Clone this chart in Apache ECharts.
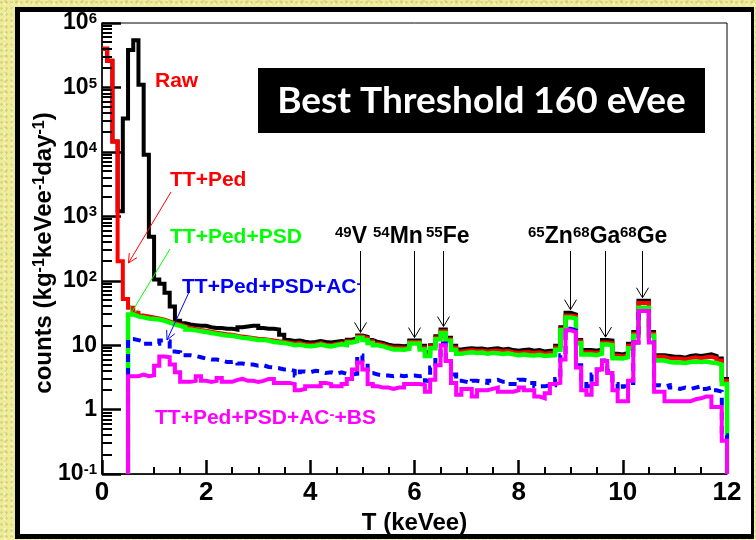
<!DOCTYPE html>
<html>
<head>
<meta charset="utf-8">
<script src="https://cdn.jsdelivr.net/npm/echarts/dist/echarts.min.js"></script>
<style>
  html, body { margin: 0; padding: 0; width: 756px; height: 540px; overflow: hidden; }
  body {
    position: relative;
    background-color: #efec98;
    background-image:
      radial-gradient(circle at 30% 40%, rgba(120,120,70,0.20) 0 1px, transparent 1.6px),
      radial-gradient(circle at 70% 80%, rgba(255,255,220,0.55) 0 1px, transparent 1.6px),
      radial-gradient(circle at 50% 10%, rgba(140,140,90,0.16) 0 1.2px, transparent 2px);
    background-size: 5px 6px, 7px 5px, 11px 9px;
  }
  #panel {
    position: absolute; left: 15px; top: 7px; width: 731px; height: 522px;
    background: #ffffff; border: 5px solid #000; border-right-width: 3px;
  }
  #chart { position: absolute; left: 0; top: 0; width: 756px; height: 540px; }
</style>
</head>
<body>
<div id="panel"></div>
<div id="chart"></div>
<script>
// Energy spectra, 0.1 keVee bins from 0 to 12 keVee (bin i covers [0.1*i, 0.1*(i+1)))
const BIN_WIDTH = 0.1;
const E_MAX = 12;
const Y_FLOOR = 0.1;

// Raw
const raw = [
  400000, 260000, 14500, 1200, 33000,
  380000, 540000, 110000, 9000, 480,
  105, 90, 65, 40, 24,
  22, 21, 20.5, 20, 20,
  19, 18.5, 18.5, 18, 18,
  17.5, 19, 19.5, 20, 20,
  18.5, 18, 18, 17.5, 14.5,
  12, 11.6, 11.8, 11.3, 11,
  11.2, 11.6, 11.2, 11, 11.3,
  11.6, 11.3, 12.2, 12.8, 14.2,
  13.5, 12, 11.2, 10.8, 10.2,
  9.8, 9.8, 9.6, 10, 11.8,
  11.8, 9.8, 7.8, 10, 13.8,
  17.5, 13, 9.8, 8.6, 8.8,
  9, 8.8, 8.9, 8.6, 8.8,
  9, 8.6, 8.8, 8.4, 8.2,
  8.4, 8.6, 8.2, 8.4, 8,
  8.2, 8.3, 9.8, 19, 32,
  30, 12, 8.4, 8.4, 8.2,
  8.6, 12, 11.8, 7.4, 7.2,
  7.6, 10.5, 16, 49, 49,
  16, 7, 7, 6.8, 6.6,
  6.6, 6.4, 6.8, 7, 6.8,
  7, 7.2, 6.8, 6.2, 3
];

// TT+Ped
const ttPed = [
  400000, 260000, 14500, 200, 52,
  38, 32, 29, 28, 27,
  26, 25, 23.5, 22, 21,
  19.8, 18.5, 17.8, 17.2, 16.8,
  16.2, 15.6, 15.2, 14.8, 14.5,
  14, 13.6, 13.3, 13, 12.6,
  12.5, 12.2, 11.8, 11.5, 11.3,
  11, 10.6, 10.8, 10.4, 10.2,
  10.4, 10.8, 10.3, 10.1, 10.5,
  10.8, 10.6, 11.5, 12.2, 13.6,
  12.8, 11.5, 10.6, 10.2, 9.6,
  9.2, 9.2, 9.1, 9.4, 11.2,
  11.2, 9.2, 7.3, 9.6, 13.2,
  16.5, 12.4, 9.2, 8, 8.2,
  8.4, 8.2, 8.3, 8, 8.2,
  8.3, 8, 8.2, 7.8, 7.6,
  7.8, 7.8, 7.6, 7.8, 7.4,
  7.6, 7.7, 9.2, 18, 29,
  28, 11.5, 7.8, 7.8, 7.6,
  8, 11, 10.8, 6.9, 6.7,
  7.1, 9.8, 15, 45, 45,
  15, 6.6, 6.6, 6.3, 6.2,
  6.2, 6, 6.3, 6.5, 6.3,
  6.5, 6.6, 6.3, 5.8, 2.8
];

// TT+Ped+PSD
const ttPedPsd = [
  null, null, null, null, null,
  30, 28, 27, 26, 25.5,
  25, 24, 22.5, 21, 20,
  19, 17.5, 17, 16.5, 16,
  15.5, 15, 14.5, 14.2, 14,
  13.5, 13, 12.8, 12.5, 12,
  12, 11.8, 11.2, 11, 10.8,
  10.5, 10, 10.2, 9.8, 9.6,
  9.8, 10.2, 9.8, 9.6, 10,
  10.3, 10, 11, 11.5, 13,
  12, 10.8, 10, 9.6, 9,
  8.6, 8.6, 8.5, 8.8, 10.6,
  10.6, 8.6, 6.8, 9, 12.4,
  15.5, 11.7, 8.5, 7.4, 7.6,
  7.8, 7.6, 7.7, 7.4, 7.6,
  7.5, 7.3, 7.5, 7.2, 7,
  7.2, 7, 6.9, 7.1, 6.8,
  6.9, 7, 8.5, 17, 27,
  26, 10.7, 7.2, 7.2, 7,
  7.4, 10.3, 10, 6.3, 6.2,
  6.5, 9, 14, 38, 38,
  14, 5.8, 5.8, 5.5, 5.4,
  5.4, 5.3, 5.5, 5.6, 5.5,
  5.6, 5.4, 5.3, 5, 2.5
];

// TT+Ped+PSD+AC-
const ttPedPsdAc = [
  null, null, null, null, null,
  12.5, 12, 11.5, 10.5, 10.5,
  10.5, 11.8, 11.5, 8, 7.8,
  7, 7, 6.8, 6.5, 6.2,
  6, 6, 5.8, 5.5, 5.5,
  5.6, 5.2, 5, 5, 4.8,
  4.9, 4.6, 4.5, 4.4, 4.2,
  4.2, 4, 3.4, 3.9, 3.8,
  4, 3.9, 3.7, 3.8, 3.6,
  3.8, 3.6, 3.5, 3.6, 6.9,
  5.5, 3.7, 3.5, 3.4, 3.4,
  3.3, 3.4, 3.3, 3.4, 3.4,
  3.3, 3.4, 2.8, 4.5, 6.4,
  10.6, 6, 3.5, 2.8, 2.7,
  2.6, 2.8, 2.7, 2.6, 2.8,
  2.9, 2.7, 2.7, 2.5, 2.5,
  2.9, 2.8, 2.6, 2.3, 2.3,
  2.4, 2.4, 3, 7, 18,
  17, 4.9, 2.5, 2.3, 3.5,
  4.2, 5.8, 4, 2.5, 2,
  2.3, 2.6, 11, 34, 34,
  11, 2.4, 2.3, 2.4, 2.2,
  2.1, 2.2, 2.1, 2.2, 2.3,
  2.1, 2.2, 2, 1.9, 0.4
];

// TT+Ped+PSD+AC-+BS
const ttPedPsdAcBs = [
  null, null, null, null, null,
  3.3, 3.3, 3.5, 3.3, 3.4,
  4.8, 6.7, 6.5, 5, 3.8,
  2.7, 2.7, 2.8, 3.3, 2.8,
  2.7, 2.8, 3.1, 2.7, 2.7,
  2.9, 3, 2.8, 2.8, 2.7,
  2.8, 3, 3, 2.6, 2.6,
  2.6, 2.5, 2, 2.1, 2.3,
  2.3, 2.3, 2.6, 2.5, 2.3,
  2.3, 2.5, 3, 4.2, 5.4,
  4.2, 2.5, 2.3, 2.2, 2.2,
  2.1, 2.2, 2.2, 2.5, 2.5,
  2.5, 2.4, 1.9, 2.9, 4.9,
  10, 5.7, 2.6, 1.7, 2.1,
  2.1, 1.6, 2, 2, 2.1,
  2.2, 1.9, 1.9, 1.9, 2,
  2.2, 2, 2, 1.6, 1.5,
  1.8, 2.5, 2.6, 6, 17,
  16, 4.5, 2, 1.7, 2.5,
  4.2, 5.7, 3.7, 2, 1.35,
  1.35, 2.8, 11, 34, 34,
  11, 1.9, 1.9, 1.35, 1.35,
  1.35, 1.35, 1.35, 1.45, 1.5,
  1.6, 1.6, 1.1, 1.1, 0.33
];

// Cosmogenic X-ray lines marked above the spectrum
const lineNames  = ['V', 'Mn', 'Fe', 'Zn', 'Ga', 'Ge'];
const lineMasses = ['49', '54', '55', '65', '68', '68'];
const lineEnergies = [4.96, 5.99, 6.54, 8.98, 9.66, 10.37];

const xTickLabels = [0, 2, 4, 6, 8, 10, 12];

// ---- layout / style ----
const FONT = '"Liberation Sans", Arial, Helvetica, sans-serif';
const TICK_COLOR = '#000000';
const lineLabelLeft = [335, 373, 426, 528, 573, 620];   // left edge of each isotope label
const LINE_LABEL_Y = 237;
const ARROW_TOP_Y = 251;

// histogram outline: horizontal across each bin, vertical at edges, closed to the floor at the end
function histPath(counts, riseFromFloor) {
  const pts = [];
  const first = counts.findIndex(v => v != null);
  if (riseFromFloor) pts.push([+(first * BIN_WIDTH).toFixed(2), Y_FLOOR]);
  for (let i = first; i < counts.length; i++) {
    pts.push([+(i * BIN_WIDTH).toFixed(2), counts[i]]);
  }
  pts.push([E_MAX, counts[counts.length - 1]]);
  pts.push([E_MAX, Y_FLOOR]);
  return pts;
}

function histSeries(name, counts, color, width, rise, dash) {
  return {
    name, type: 'line', step: 'end', data: histPath(counts, rise),
    symbol: 'none', showSymbol: false, silent: true, clip: true,
    lineStyle: { color, width, type: dash || 'solid', cap: 'butt', join: 'miter' },
    z: 3
  };
}

const chart = echarts.init(document.getElementById('chart'), null, { renderer: 'canvas' });

chart.setOption({
  animation: false,
  backgroundColor: 'transparent',
  grid: { left: 102, right: 29, top: 23, bottom: 60, show: true, borderColor: '#000', borderWidth: 1 },
  xAxis: {
    type: 'value', min: 0, max: E_MAX, interval: 2,
    axisLine: { show: true, onZero: false, lineStyle: { color: '#000', width: 1.5 } },
    axisTick: { show: true, inside: true, length: 14, lineStyle: { color: TICK_COLOR, width: 2.5 } },
    minorTick: { show: true, splitNumber: 4, length: 7, lineStyle: { color: TICK_COLOR, width: 2 } },
    splitLine: { show: false },
    axisLabel: {
      margin: 6, color: '#000', fontFamily: FONT, fontWeight: 'bold', fontSize: 26,
      formatter: v => (xTickLabels.indexOf(v) >= 0 ? String(v) : '')
    },
    name: 'T (keVee)', nameLocation: 'middle', nameGap: 26,
    nameTextStyle: { color: '#000', fontFamily: FONT, fontWeight: 'bold', fontSize: 24 }
  },
  yAxis: {
    type: 'log', logBase: 10, min: Y_FLOOR, max: 1e6, splitNumber: 7,
    axisLine: { show: true, lineStyle: { color: '#000', width: 1.5 } },
    axisTick: { show: true, inside: true, length: 19, lineStyle: { color: TICK_COLOR, width: 2.5 } },
    minorTick: { show: false },
    splitLine: { show: false },
    axisLabel: {
      margin: 5, color: '#000',
      formatter: v => {
        const e = Math.round(Math.log10(v));
        if (e === 0) return '{b|1}';
        if (e === 1) return '{b|10}';
        return '{b|10}{s|' + e + '}';
      },
      rich: {
        b: { fontFamily: FONT, fontWeight: 'bold', fontSize: 23, lineHeight: 23, padding: [8, 0, 0, 0], verticalAlign: 'bottom', color: '#000' },
        s: { fontFamily: FONT, fontWeight: 'bold', fontSize: 15, lineHeight: 16, verticalAlign: 'top', color: '#000' }
      }
    }
  },
  series: [
    histSeries('Raw', raw, '#000000', 4, false),
    histSeries('TT+Ped', ttPed, '#ff0000', 4, false),
    histSeries('TT+Ped+PSD', ttPedPsd, '#00ff00', 4.5, true),
    histSeries('TT+Ped+PSD+AC-', ttPedPsdAc, '#0000ff', 4, true, [8, 6]),
    histSeries('TT+Ped+PSD+AC-+BS', ttPedPsdAcBs, '#ff00ff', 4, true)
  ]
});

// ---- overlays: minor log ticks, labels, arrows ----
const px = e => chart.convertToPixel({ xAxisIndex: 0 }, e);
const py = v => chart.convertToPixel({ yAxisIndex: 0 }, v);
const graphics = [];
const X0 = px(0);

// minor ticks (2..9 within each decade) of the log axis
for (let d = -1; d <= 5; d++) {
  for (let m = 2; m <= 9; m++) {
    const y = Math.round(py(m * Math.pow(10, d)));
    graphics.push({ type: 'line', silent: true, z: 8,
      shape: { x1: X0, y1: y, x2: X0 + 10, y2: y },
      style: { stroke: TICK_COLOR, lineWidth: 2 } });
  }
}

function arrow(x1, y1, x2, y2, color, headLen, headHalf, lw) {
  const dx = x2 - x1, dy = y2 - y1, L = Math.hypot(dx, dy);
  const ux = dx / L, uy = dy / L, nx = -uy, ny = ux;
  graphics.push({ type: 'line', silent: true, z: 6, shape: { x1, y1, x2, y2 }, style: { stroke: color, lineWidth: lw } });
  graphics.push({ type: 'polyline', silent: true, z: 6,
    shape: { points: [[x2 - ux * headLen + nx * headHalf, y2 - uy * headLen + ny * headHalf], [x2, y2],
                      [x2 - ux * headLen - nx * headHalf, y2 - uy * headLen - ny * headHalf]] },
    style: { stroke: color, lineWidth: lw, fill: null } });
}

// isotope labels + arrows pointing at the peak tops
const supRich = (size, sup, pad) => ({
  n: { fontFamily: FONT, fontWeight: 'bold', fontSize: size, lineHeight: size, padding: [pad, 0, 0, 0], verticalAlign: 'bottom', fill: '#000' },
  s: { fontFamily: FONT, fontWeight: 'bold', fontSize: sup, lineHeight: sup + 1, verticalAlign: 'top', fill: '#000' }
});
lineNames.forEach((nm, k) => {
  graphics.push({ type: 'text', silent: true, z: 6, x: lineLabelLeft[k], y: LINE_LABEL_Y,
    style: { text: '{s|' + lineMasses[k] + '}{n|' + nm + '}', rich: supRich(23, 15, 4), align: 'left', verticalAlign: 'middle' } });
  const e = lineEnergies[k];
  const peak = raw[Math.floor(e / BIN_WIDTH + 1e-9)];
  const x = Math.round(px(e)) + 0.5;
  arrow(x, ARROW_TOP_Y, x, py(peak) - 3, '#000', 10, 6, 1);
});

// curve labels
function curveLabel(text, x, y, color, hasSup) {
  const rich = {
    n: { fontFamily: FONT, fontWeight: 'bold', fontSize: 21, lineHeight: 21, padding: [hasSup ? 5 : 0, 0, 0, 0], verticalAlign: 'bottom', fill: color },
    s: { fontFamily: FONT, fontWeight: 'bold', fontSize: 15, lineHeight: 15, verticalAlign: 'top', fill: color }
  };
  graphics.push({ type: 'text', silent: true, z: 6, x, y: hasSup ? y - 2.5 : y,
    style: { text, rich, align: 'left', verticalAlign: 'middle' } });
}
curveLabel('{n|Raw}', 155, 81.5, '#ff0000');
curveLabel('{n|TT+Ped}', 170, 180, '#ff0000');
curveLabel('{n|TT+Ped+PSD}', 170, 237.5, '#00ff00');
curveLabel('{n|TT+Ped+PSD+AC}{s|-}{n|}', 182, 289.5, '#0000ff', true);
curveLabel('{n|TT+Ped+PSD+AC}{s|-}{n|+BS}', 155, 420.5, '#ff00ff', true);

arrow(171, 192, 128.5, 263, '#ff0000', 9, 4.5, 1);
arrow(170, 249, 130, 315, '#00ff00', 9, 4.5, 1);
arrow(190, 290, 167, 340, '#0000ff', 9, 4.5, 1);

// y-axis title
graphics.push({ type: 'text', silent: true, z: 6, x: 44, y: 253, rotation: Math.PI / 2,
  style: {
    text: '{n|counts (kg}{s|-1}{n|keVee}{s|-1}{n|day}{s|-1}{n|)}',
    rich: supRich(24, 16, 7), align: 'center', verticalAlign: 'middle'
  } });

// threshold banner
graphics.push({ type: 'rect', silent: true, z: 6, shape: { x: 258, y: 68, width: 447, height: 65 }, style: { fill: '#000' } });
graphics.push({ type: 'text', silent: true, z: 7, x: 481.5, y: 101,
  style: { text: 'Best Threshold 160 eVee', fill: '#fff', font: 'bold 37px Lato, "Open Sans", sans-serif', align: 'center', verticalAlign: 'middle' } });

chart.setOption({ graphic: graphics });
</script>
</body>
</html>
